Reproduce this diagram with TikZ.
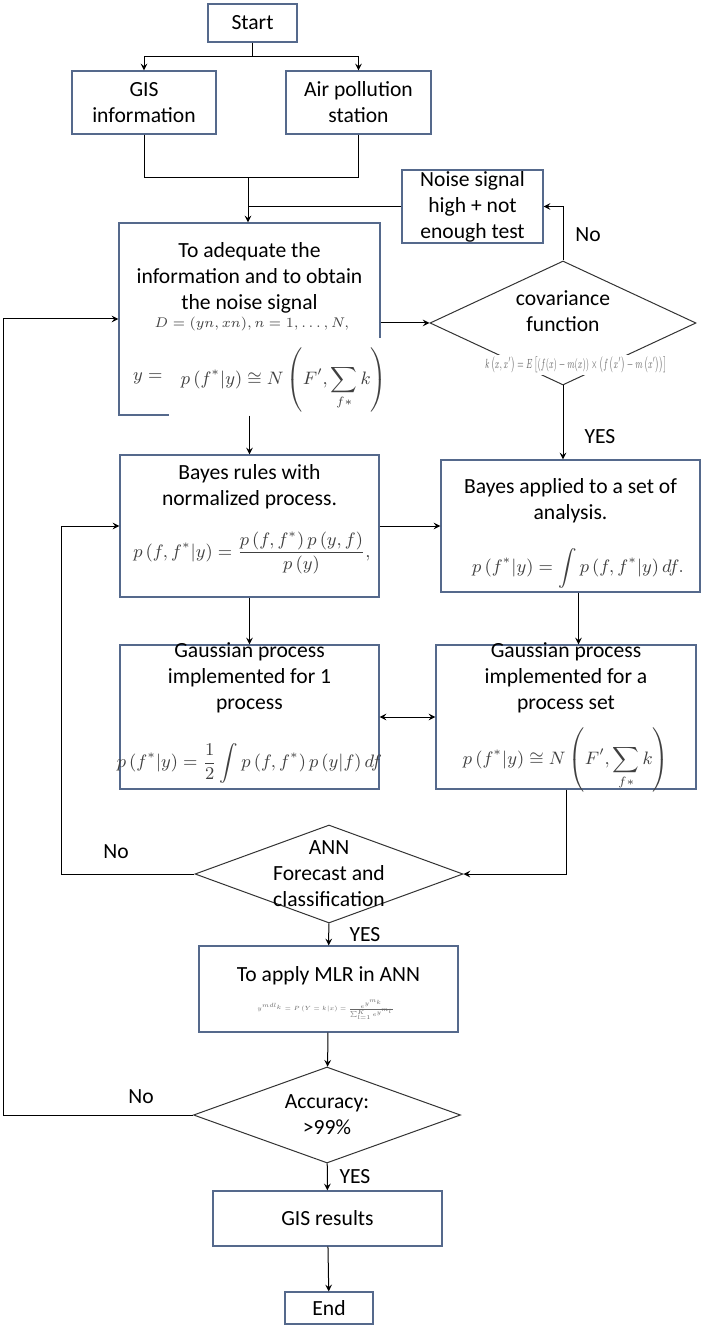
\documentclass[tikz,border=0pt]{standalone}
\usepackage{amsmath}
\usepackage{fontspec}
\setmainfont{Carlito}
\usetikzlibrary{calc,arrows.meta,shapes.geometric}
\tikzset{>=stealth}
\definecolor{boxline}{RGB}{85,105,140}
\tikzset{
  box/.style={draw=boxline, line width=0.6pt, fill=white, align=center, inner sep=0pt},
  dec/.style={diamond, draw=black!80, line width=0.5pt, fill=white, inner sep=0pt},
  txt/.style={align=center, inner sep=0pt},
  frm/.style={inner sep=1pt, text=black!75, font=\small},
  lbl/.style={inner sep=0pt}
}

\begin{document}
\begin{tikzpicture}[x=0.5pt,y=-0.5pt,font=\fontsize{10.8}{13}\selectfont,line width=0.5pt]
\useasboundingbox (0,0) rectangle (712,1331);

% top of the chart
\node[box, minimum width=44.5pt, minimum height=19pt] (start) at (252.5,23) {Start};
\node[box, minimum width=72pt, minimum height=31.5pt] (gis) at (144,102.5) {GIS\\information};
\node[box, minimum width=72.5pt, minimum height=31.5pt] (air) at (358.5,102.5) {Air pollution\\station};
\node[box, minimum width=70.5pt, minimum height=36.5pt] (noise) at (472.5,206.5) {Noise signal\\high + not\\enough test};

% noise signal box
\node[box, minimum width=130.5pt, minimum height=96pt] (adq) at (249.5,319) {};
\node[txt] (adqt) at (249.5,278) {To adequate the\\information and to obtain\\the noise signal};
\node[frm, font=\fontsize{7.5}{9}\selectfont] (adqd) at (252,324) {$D=(yn,xn), n=1,\ldots,N,$};
\node[frm] (adqy) at (153,378) {$y=\;,$};
\node[frm, fill=white, inner xsep=6pt, inner ysep=5pt] (adqf) at (284,380) {$\displaystyle p\,(f^{*}|y)\cong N\left(F',\sum_{f*}k\right)$};

% covariance test
\node[dec, minimum width=133pt, minimum height=62pt] (cov) at (563,323) {};
\node[txt] (covt) at (563,311) {covariance\\function};
\node[frm, fill=white, text=black!60, font=\scriptsize] (covf) at (576,365) {\scalebox{0.52}[0.95]{$k\left(x,x'\right)=E\left[\left(f(x)-m(x)\right)\times\left(f\left(x'\right)-m\left(x'\right)\right)\right]$}};

% Bayes
\node[box, minimum width=129.5pt, minimum height=71pt] (bayesR) at (249.5,526) {};
\node[txt] (bayesRt) at (249.5,487) {Bayes rules with\\normalized process.};
\node[frm] (bayesRf) at (252,553) {$\displaystyle p\,(f,f^{*}|y)=\frac{p\,(f,f^{*})\,p\,(y,f)}{p\,(y)},$};
\node[box, minimum width=129.5pt, minimum height=66pt] (bayesA) at (570.5,526) {};
\node[txt] (bayesAt) at (570.5,501) {Bayes applied to a set of\\analysis.};
\node[frm] (bayesAf) at (578,568) {$\displaystyle p\,(f^{*}|y)=\int p\,(f,f^{*}|y)\,df.$};

% Gaussian process
\node[box, minimum width=129.5pt, minimum height=72pt] (gaussO) at (249.5,717) {};
\node[txt] (gaussOt) at (249.5,678) {Gaussian process\\implemented for 1\\process};
\node[frm] (gaussOf) at (249.5,763) {$\displaystyle p\,(f^{*}|y)=\frac{1}{2}\int p\,(f,f^{*})\,p\,(y|f)\,df$};
\node[box, minimum width=130pt, minimum height=72pt] (gaussS) at (566,717) {};
\node[txt] (gaussSt) at (566,678) {Gaussian process\\implemented for a\\process set};
\node[frm] (gaussSf) at (566,760) {$\displaystyle p\,(f^{*}|y)\cong N\left(F',\sum_{f*}k\right)$};

% ANN
\node[dec, minimum width=134pt, minimum height=49pt] (ann) at (329,874) {};
\node[txt] (annt) at (329,874) {ANN\\Forecast and\\classification};
\node[box, minimum width=129.5pt, minimum height=43pt] (mlr) at (328.5,989) {};
\node[txt] (mlrt) at (328.5,976) {To apply MLR in ANN};
\node[frm, font=\tiny, text=black!60] (mlrf) at (326,1010) {\scalebox{0.6}{$y^{mdl_k}=P\left(Y=k|x\right)=\frac{e^{y^{m_k}}}{\sum_{l=1}^{K}e^{y^{m_l}}}$}};

% end of the chart
\node[dec, minimum width=133.5pt, minimum height=48pt] (acc) at (327,1115) {};
\node[txt] (acct) at (327,1115) {Accuracy:\\>99\%};
\node[box, minimum width=114.5pt, minimum height=27.5pt] (res) at (327.5,1218.5) {GIS results};
\node[box, minimum width=44pt, minimum height=16pt] (fin) at (329,1308) {End};

% yes / no
\node[lbl] (noA) at (588,235) {No};
\node[lbl] (yesA) at (600,437) {YES};
\node[lbl] (noB) at (116,852) {No};
\node[lbl] (yesB) at (365,935) {YES};
\node[lbl] (noC) at (141,1097) {No};
\node[lbl] (yesC) at (355,1177) {YES};

\coordinate (split) at (252.5,57);
\coordinate (join) at (248,178);
\coordinate (outer) at (3,1115);
\coordinate (inner) at (61,874);

\draw (start) -- (split);
\draw[->] (split) -| (gis);
\draw[->] (split) -| (air);
\draw (gis) |- (join);
\draw (air) |- (join);
\draw[->] (join) -- (join |- adq.north);
\draw (noise) -- (noise -| join);
\draw[->] (cov.north) |- (noise);
\draw[->] (adq.east |- cov) -- (cov);
\draw[->] (cov.south) -- (cov.south |- bayesA.north);
\draw[->] (acc) -- (outer) |- (adq);
\draw[->] (adq) -- (bayesR);
\draw[->] (bayesR) -- (bayesA);
\draw[->] (ann) -- (inner) |- (bayesR);
\draw[->] (bayesR) -- (gaussO);
\draw[->] ([xshift=4pt]bayesA.south) -- ([xshift=4pt]bayesA.south |- gaussS.north);
\draw[<->] (gaussO) -- (gaussS);
\draw[->] (gaussS) |- (ann);
\draw[->] (ann) -- (mlr);
\draw[->] (mlr) -- (acc);
\draw[->] (acc) -- (res);
\draw[->] (res) -- (fin);
\end{tikzpicture}
\end{document}
